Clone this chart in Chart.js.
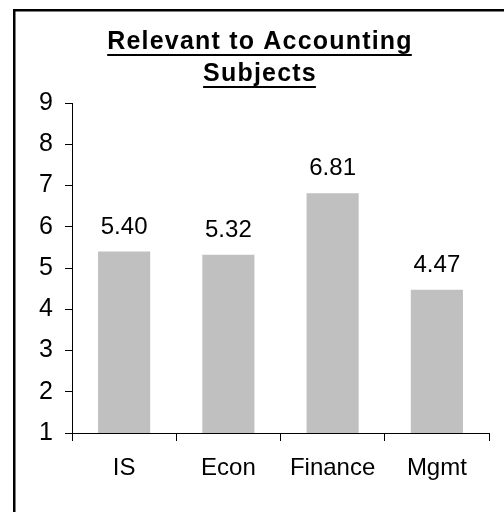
<!DOCTYPE html>
<html>
<head>
<meta charset="utf-8">
<script src="https://cdn.jsdelivr.net/npm/chart.js@4"></script>
<style>
  html, body { margin: 0; padding: 0; background: #fff; }
</style>
</head>
<body>
<canvas id="chart" width="504" height="512"></canvas>
<script>
const categories = ['IS', 'Econ', 'Finance', 'Mgmt'];
const scores = [5.40, 5.32, 6.81, 4.47];
const yTickValues = [1, 2, 3, 4, 5, 6, 7, 8, 9];
const titleLines = ['Relevant to Accounting', 'Subjects'];

const fam = "'Liberation Sans', Arial, sans-serif";

// white page + the cropped black frame (top and left edge only)
const frame = {
  id: 'frame',
  beforeDraw(chart) {
    const ctx = chart.ctx;
    ctx.save();
    ctx.fillStyle = '#fff';
    ctx.fillRect(0, 0, chart.width, chart.height);
    ctx.fillStyle = '#000';
    ctx.fillRect(13, 9, chart.width - 13, 2.5);
    ctx.fillRect(13, 9, 2.5, chart.height - 9);
    ctx.restore();
  }
};

// title with underline, canvas title has no underline option
const underlinedTitle = {
  id: 'underlinedTitle',
  afterDraw(chart) {
    const ctx = chart.ctx;
    ctx.save();
    ctx.font = 'bold 25px ' + fam;
    ctx.letterSpacing = '1.2px';
    ctx.fillStyle = '#000';
    ctx.textAlign = 'left';
    ctx.textBaseline = 'alphabetic';
    titleLines.forEach((line, i) => {
      const w = ctx.measureText(line).width;
      const x = 260 - w / 2;
      const y = 49 + i * 32;
      ctx.fillText(line, x, y);
      ctx.fillRect(x, y + 5, w - 1, 2);
    });
    ctx.restore();
  }
};

const valueLabels = {
  id: 'valueLabels',
  afterDatasetsDraw(chart) {
    const ctx = chart.ctx;
    const meta = chart.getDatasetMeta(0);
    ctx.save();
    ctx.font = '24px ' + fam;
    ctx.fillStyle = '#000';
    ctx.textAlign = 'center';
    ctx.textBaseline = 'alphabetic';
    meta.data.forEach((bar, i) => {
      ctx.fillText(scores[i].toFixed(2), bar.x, bar.y - 18);
    });
    ctx.restore();
  }
};

new Chart(document.getElementById('chart'), {
  type: 'bar',
  data: {
    labels: categories,
    datasets: [{
      data: scores,
      backgroundColor: '#c0c0c0',
      borderWidth: 0,
      categoryPercentage: 1,
      barPercentage: 0.5
    }]
  },
  options: {
    responsive: false,
    animation: false,
    devicePixelRatio: 1,
    layout: {
      padding: { top: 103, right: 15, bottom: 0, left: 0 }
    },
    scales: {
      x: {
        offset: true,
        grid: {
          offset: true,
          drawOnChartArea: false,
          tickLength: 8,
          color: '#000'
        },
        border: { color: '#000', width: 1 },
        ticks: {
          color: '#000',
          font: { family: fam, size: 24 },
          padding: 13,
          maxRotation: 0
        },
        afterFit: s => { s.height = 79; }
      },
      y: {
        min: yTickValues[0],
        max: yTickValues[yTickValues.length - 1],
        afterBuildTicks: s => { s.ticks = yTickValues.map(v => ({ value: v })); },
        grid: {
          drawOnChartArea: false,
          tickLength: 7,
          color: '#000'
        },
        border: { color: '#000', width: 1 },
        ticks: {
          color: '#000',
          font: { family: fam, size: 25 },
          padding: 12
        },
        afterFit: s => { s.width = 72; }
      }
    },
    plugins: {
      legend: { display: false },
      title: { display: false },
      tooltip: { enabled: false }
    }
  },
  plugins: [frame, underlinedTitle, valueLabels]
});
</script>
</body>
</html>
